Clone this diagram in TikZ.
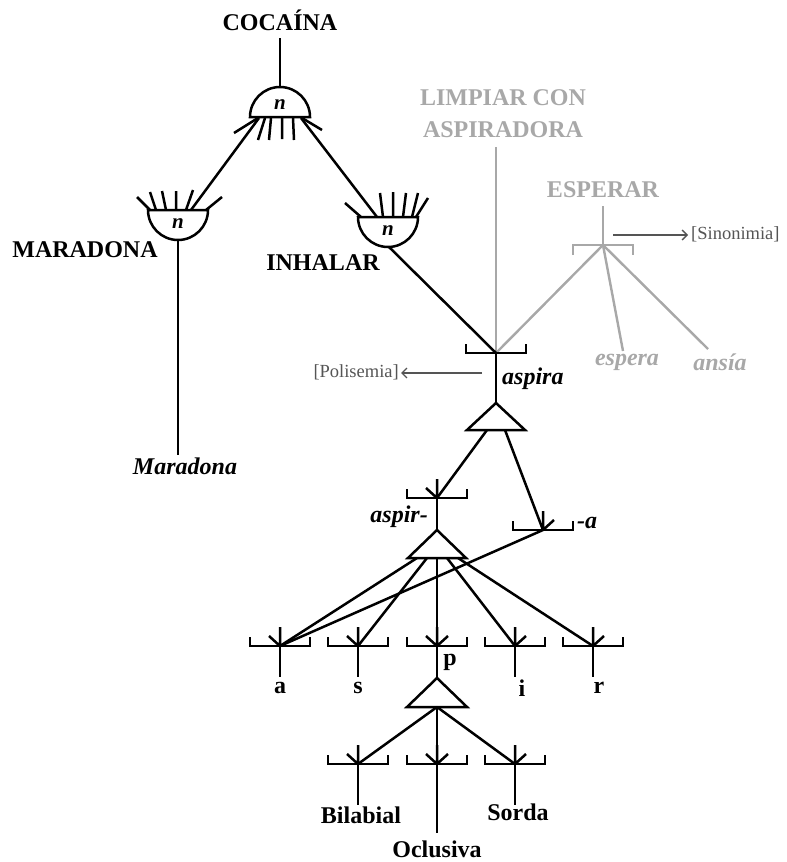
\documentclass[tikz,border=0pt]{standalone}
\usepackage{fontspec}
\setmainfont{Liberation Serif}
\usetikzlibrary{arrows.meta,calc}
\definecolor{lgray}{RGB}{168,168,168}
\definecolor{ngray}{RGB}{85,85,85}
\begin{document}
\begin{tikzpicture}[x=1pt,y=-1pt,
  ln/.style={line width=2.5pt,black},
  gln/.style={line width=2.4pt,lgray},
  big/.style={font=\fontsize{24}{27}\selectfont\bfseries,inner sep=0pt},
  bigi/.style={font=\fontsize{24}{27}\selectfont\bfseries\itshape,inner sep=0pt},
  gbig/.style={big,text=lgray},
  gbigi/.style={bigi,text=lgray},
  note/.style={font=\fontsize{18.5}{20}\selectfont,text=ngray,inner sep=0pt},
  nsym/.style={font=\fontsize{21}{22}\selectfont\bfseries\itshape,inner sep=0pt},
  arr/.style={line width=1.3pt,ngray,-{Straight Barb[length=5pt,width=10pt]}},
  brk/.pic={\draw[ln] (-30,-9) -- (-30,0) -- (30,0) -- (30,-9);},
  fanall/.pic={\draw[ln] (0,0) -- (-11,-10) (0,0) -- (0,-19) (0,0) -- (11,-10);},
  fanleft/.pic={\draw[ln] (0,0) -- (-11,-10) (0,0) -- (0,-19);},
  fanright/.pic={\draw[ln] (0,0) -- (0,-19) (0,0) -- (11,-10);}
]
\useasboundingbox (0,0) rectangle (787,862);

% ---------- labels ----------
\node[big] (coca) at (280,20) {COCAÍNA};
\node[big] (mara) at (85,250) {MARADONA};
\node[big] (inha) at (323,263) {INHALAR};
\node[gbig,align=center,font=\fontsize{24}{32}\selectfont\bfseries] (limp) at (503,114) {LIMPIAR CON\\ASPIRADORA};
\node[gbig] (espr) at (603,190) {ESPERAR};
\node[note,anchor=west] (sino) at (691,234) {[Sinonimia]};
\node[gbigi] (esp) at (627,362) {espera};
\node[gbigi] (ans) at (720,362) {ansía};
\node[note,anchor=east] (poli) at (399,372) {[Polisemia]};
\node[bigi,anchor=west] (aspl) at (502,379) {aspira};
\node[bigi] (marl) at (185,466) {Maradona};
\node[bigi,anchor=east] (asprl) at (428,517) {aspir-};
\node[bigi,anchor=west] (al) at (577,523) {-a};
\node[big] (la) at (280,688) {a};
\node[big] (ls) at (358,688) {s};
\node[big] (lp) at (450,662) {p};
\node[big] (li) at (522,688) {i};
\node[big] (lr) at (599,688) {r};
\node[big] (bil) at (361,815) {Bilabial};
\node[big] (sor) at (518,812) {Sorda};
\node[big] (ocl) at (437,849) {Oclusiva};

% ---------- junction coordinates ----------
\coordinate (cocaB) at (280,38);
\coordinate (domeT) at (280,88);
\coordinate (cL) at (259,118);
\coordinate (cR) at (301,118);
\coordinate (mTop) at (191,210);
\coordinate (mBot) at (178,240);
\coordinate (mEnd) at (178,455);
\coordinate (iTop) at (377,217);
\coordinate (iBot) at (389,247);
\coordinate (jAsp) at (496,353);
\coordinate (limpB) at (496,147);
\coordinate (esprB) at (603,206);
\coordinate (jEsp) at (603,245);
\coordinate (espT) at (623,351);
\coordinate (ansT) at (708,349);
\coordinate (sinoS) at (613,235);
\coordinate (poliS) at (482,373);
\coordinate (t1a) at (496,403);
\coordinate (t1l) at (467,430);
\coordinate (t1r) at (525,430);
\coordinate (jAspir) at (437,498);
\coordinate (jSuf) at (543,530);
\coordinate (t2a) at (437,530);
\coordinate (t2l) at (408,558);
\coordinate (t2r) at (466,558);
\coordinate (jA) at (280,646);
\coordinate (jS) at (358,646);
\coordinate (jP) at (437,646);
\coordinate (jI) at (515,646);
\coordinate (jR) at (593,646);
\coordinate (t3a) at (437,678);
\coordinate (t3l) at (407,707);
\coordinate (t3r) at (467,707);
\coordinate (t3m) at (437,707);
\coordinate (jBil) at (358,764);
\coordinate (jOcl) at (437,764);
\coordinate (jSor) at (515,764);

% ---------- gray network ----------
\draw[gln] (limpB) -- (jAsp);
\draw[gln] (esprB) -- (jEsp);
\draw[gln] ($(jEsp)+(-30,10)$) -- ($(jEsp)+(-30,0)$) -- ($(jEsp)+(30,0)$) -- ($(jEsp)+(30,10)$);
\draw[gln] (jEsp) -- (jAsp);
\draw[gln] (jEsp) -- (espT);
\draw[gln] (jEsp) -- (ansT);
\draw[arr] (sinoS) -- ($(sino.west |- sinoS)+(-3,0)$);
\draw[arr] (poliS) -- ($(poli.east |- poliS)+(2,0)$);

% ---------- domes ----------
\draw[ln] (250,117) arc[start angle=180,end angle=0,radius=30pt] -- cycle;
\node[nsym] (nTop) at (280,105) {n};
\draw[ln] (148,210) arc[start angle=180,end angle=360,radius=30pt] -- cycle;
\node[nsym] (nMar) at (178,224) {n};
\draw[ln] (358,217) arc[start angle=180,end angle=360,radius=30pt] -- cycle;
\node[nsym] (nInh) at (388,231) {n};

% fans of the domes
\draw[ln] (258,118)--(234,133) (265,118)--(258,140) (271,118)--(269,140)
          (282,118)--(282,139) (293,118)--(294,140) (302,118)--(322,130);
\draw[ln] (150,210)--(137,197) (156,210)--(150,192) (166,210)--(162,191)
          (176,210)--(176,191) (186,210)--(193,190) (206,210)--(222,197);
\draw[ln] (361,217)--(345,203) (383,217)--(380,193) (393,217)--(393,192)
          (403,217)--(406,193) (412,217)--(418,193) (416,217)--(428,198);

% ---------- black connectors ----------
\draw[ln] (cocaB) -- (domeT);
\draw[ln] (cL) -- (mTop);
\draw[ln] (cR) -- (iTop);
\draw[ln] (mBot) -- (mEnd);
\draw[ln] (iBot) -- (jAsp);
\pic at (jAsp) {brk};
\draw[ln] (jAsp) -- (t1a);
\draw[ln] (t1a) -- (t1l) -- (t1r) -- cycle;
\draw[ln] (487,430) -- (jAspir);
\draw[ln] (505,430) -- (jSuf);
\pic at (jAspir) {brk};
\pic at (jAspir) {fanleft};
\pic at (jSuf) {brk};
\pic at (jSuf) {fanright};
\draw[ln] (jAspir) -- (t2a);
\draw[ln] (t2a) -- (t2l) -- (t2r) -- cycle;
\draw[ln] (jSuf) -- (jA);
\draw[ln] (417,558) -- (jA);
\draw[ln] (427,558) -- (jS);
\draw[ln] (437,558) -- (jP);
\draw[ln] (447,558) -- (jI);
\draw[ln] (458,558) -- (jR);
\foreach \j in {jA,jS,jP,jI,jR} { \pic at (\j) {brk}; }
\pic at (jA) {fanleft};
\pic at (jS) {fanleft};
\pic at (jP) {fanall};
\pic at (jI) {fanright};
\pic at (jR) {fanright};
\draw[ln] (jA) -- (280,677);
\draw[ln] (jS) -- (358,677);
\draw[ln] (jI) -- (515,677);
\draw[ln] (jR) -- (593,677);
\draw[ln] (jP) -- (t3a);
\draw[ln] (t3a) -- (t3l) -- (t3r) -- cycle;
\draw[ln] (t3m) -- (jBil);
\draw[ln] (t3m) -- (jOcl);
\draw[ln] (t3m) -- (jSor);
\foreach \j in {jBil,jOcl,jSor} { \pic at (\j) {brk}; }
\pic at (jBil) {fanleft};
\pic at (jOcl) {fanall};
\pic at (jSor) {fanright};
\draw[ln] (jBil) -- (358,805);
\draw[ln] (jOcl) -- (437,833);
\draw[ln] (jSor) -- (515,805);
\end{tikzpicture}
\end{document}
